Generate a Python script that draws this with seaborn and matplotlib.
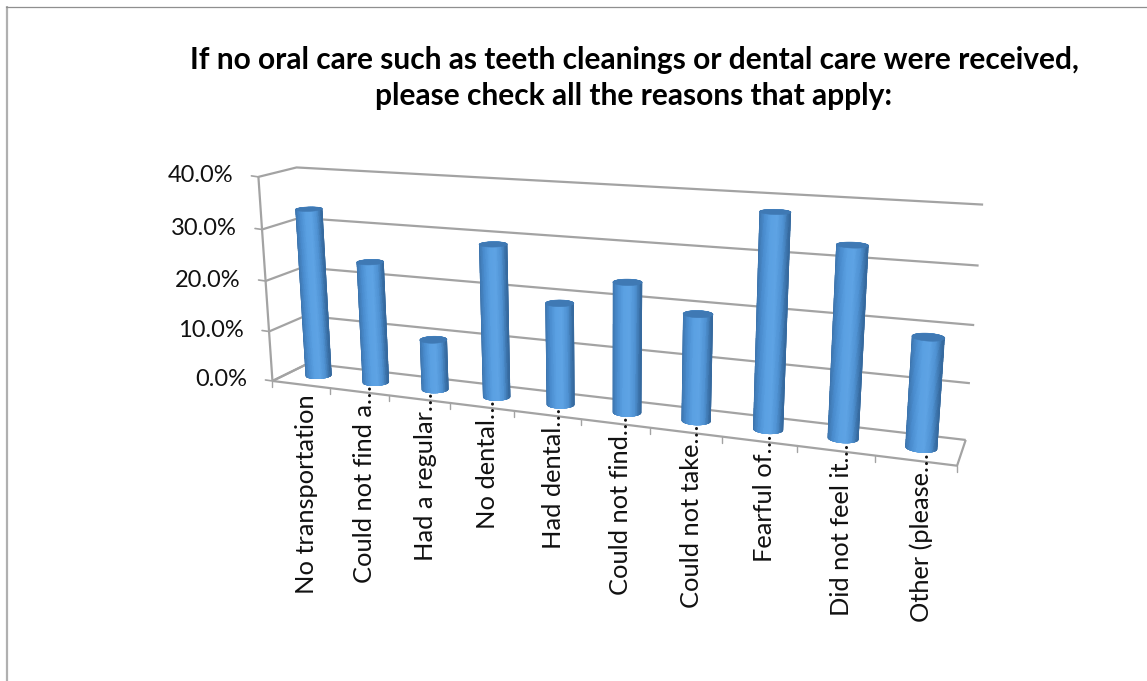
import numpy as np
import matplotlib
matplotlib.use("Agg")
import matplotlib.pyplot as plt
from matplotlib.colors import LinearSegmentedColormap
from matplotlib.patches import Polygon
import seaborn as sns

# Chart data
title = "If no oral care such as teeth cleanings or dental care were received,\nplease check all the reasons that apply:"
categories = ["No transportation", "Could not find a…", "Had a regular…", "No dental…", "Had dental…",
              "Could not find…", "Could not take…", "Fearful of…", "Did not feel it…", "Other (please…"]
values = [33.2, 23.8, 9.8, 29.0, 19.1, 24.0, 19.4, 38.0, 33.3, 19.0]
value_ticks = [0, 10, 20, 30, 40]

W, H = 1147, 681
GRID = "#a3a3a3"
shade = LinearSegmentedColormap.from_list("cyl", ["#3a70a8", "#4a8dcf", "#5aa0e2", "#5ea3e4", "#4f92d3", "#34689c"])
CAP = "#3f79b4"

sns.set_theme(style="white")
plt.rcParams["font.family"] = ["Lato", "DejaVu Sans"]

# Frame corners as seen in the picture: (category, value, depth) -> pixel
frame = [((0, 0, 0), (274, 380)), ((10, 0, 0), (957, 467)), ((0, 40, 0), (257, 177)),
         ((0, 0, 1), (307, 365)), ((10, 0, 1), (966, 438)), ((0, 40, 1), (298, 167)),
         ((10, 40, 1), (983, 205)), ((2, 0, 0), (389, 394.6)), ((5, 0, 0), (580, 419)),
         ((8, 0, 0), (797, 446.6))]


def fit_camera(pairs):
    rows = []
    for (c, v, d), (u, w) in pairs:
        p = [c / 10, v / 40, d, 1]
        rows.append(p + [0, 0, 0, 0] + [-u * q for q in p])
        rows.append([0, 0, 0, 0] + p + [-w * q for q in p])
    return np.linalg.svd(np.array(rows, float))[2][-1].reshape(3, 4)


M = fit_camera(frame)


def project(c, v, d):
    c, v, d = np.broadcast_arrays(c, v, d)
    p = np.stack([c / 10, v / 40, d, np.ones(c.shape)])
    x, y, z = M @ p
    return x / z, y / z


def hull(points):
    pts = sorted(set(map(tuple, points)))
    def half(seq):
        out = []
        for p in seq:
            while len(out) > 1 and (out[-1][0] - out[-2][0]) * (p[1] - out[-2][1]) - (out[-1][1] - out[-2][1]) * (p[0] - out[-2][0]) <= 0:
                out.pop()
            out.append(p)
        return out[:-1]
    return np.array(half(pts) + half(pts[::-1]))


fig = plt.figure(figsize=(W / 100, H / 100), dpi=100)
ax = fig.add_axes([0, 0, 1, 1])

# Bars give the heights and centres, the cylinders are then drawn from them
sns.barplot(x=categories, y=values, width=0.5, ax=ax)
bars = [(p.get_x() + p.get_width() / 2 + 0.5, p.get_height()) for p in ax.patches]
for p in list(ax.patches):
    p.set_visible(False)
ax.set_xlim(0, W)
ax.set_ylim(H, 0)
ax.set_xticks([])
ax.set_yticks([])
ax.set_xlabel("")
ax.set_ylabel("")
for s in ax.spines.values():
    s.set_visible(False)

# Outer border, only left and top are visible
ax.plot([7, 7], [H, 6], color="#b0b0b0", lw=1.6, solid_capstyle="butt")
ax.plot([6, W], [6.5, 6.5], color="#8f8f8f", lw=0.9)


def line3d(c, v, d, **kw):
    x, y = project(np.array(c, float), np.array(v, float), np.array(d, float))
    ax.plot(x, y, color=GRID, lw=1.6, solid_capstyle="butt", **kw)


# Walls and floor
for t in value_ticks:
    line3d([0, 0, 10], [t, t, t], [0, 1, 1])
    x, y = project(0, t, 0)
    ax.plot([x - 7, x], [y - 1, y], color=GRID, lw=1.2)
    ax.text(x - 25, y - 1, f"{t:.1f}%", ha="right", va="center", fontsize=17, color="#111111")
line3d([0, 0], [0, 40], [0, 0])
line3d([0, 10, 10], [0, 0, 0], [0, 0, 1])
line3d([0, 0], [0, 0], [0, 1])
for i in range(len(categories) + 1):
    x, y = project(i, 0, 0)
    ax.plot([x, x], [y, y + 6], color=GRID, lw=1.0)


def cylinder(c, v, rc=0.2, rd=0.19, d0=0.5):
    th = np.linspace(0, 2 * np.pi, 121)
    cc = c + rc * np.cos(th)
    dd = d0 + rd * np.sin(th)
    xb, yb = project(cc, 0.0, dd)
    xt, yt = project(cc, v, dd)
    outline = hull(np.column_stack([np.r_[xb, xt], np.r_[yb, yt]]))
    clip = Polygon(outline, closed=True, transform=ax.transData, fc="none", ec="none")
    ax.add_patch(clip)
    # strips run along the column between its left and right silhouette
    ib, it = xb.argmin(), xt.argmin()
    jb, jt = xb.argmax(), xt.argmax()
    n = 40
    edges = np.linspace(0, 1, n + 1)
    for k in range(n):
        a, b = edges[k], edges[k + 1]
        xq = [xb[ib] + a * (xb[jb] - xb[ib]), xb[ib] + b * (xb[jb] - xb[ib]),
              xt[it] + b * (xt[jt] - xt[it]), xt[it] + a * (xt[jt] - xt[it])]
        low = yb.max() + 2
        high = yt.min() - 2
        strip = ax.fill(xq, [low, low, high, high], color=shade((a + b) / 2), lw=0.8, zorder=3,
                        antialiased=False)[0]
        strip.set_clip_path(clip)
    ax.fill(xt, yt, color=CAP, lw=0.4, zorder=4)


for c, v in bars:
    cylinder(c, v)

# Category labels hang from the front edge
for i, name in enumerate(categories):
    x, y = project(i + 0.5, 0, 0)
    top = y + (10 if not name.endswith("…") else -7)
    ax.text(x + 6, top, name, rotation=90, ha="center", va="top", fontsize=18.3, color="#111111")

ax.text(634, 78, title, ha="center", va="center", fontsize=21.5, fontweight="bold",
        color="#000000", linespacing=1.35)

fig.savefig("out.png", dpi=100)
